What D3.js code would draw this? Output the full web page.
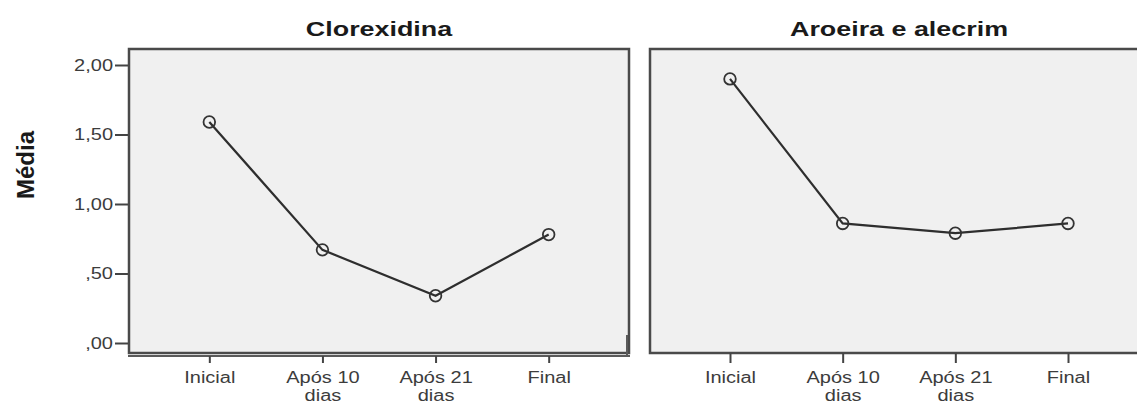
<!DOCTYPE html>
<html>
<head>
<meta charset="utf-8">
<script src="https://cdn.jsdelivr.net/npm/d3@7"></script>
<style>
  html, body { margin: 0; padding: 0; background: #fff; }
  svg { display: block; }
</style>
</head>
<body>
<svg id="chart" width="1137" height="405"></svg>
<script>
// ---- data ----
const categories = ["Inicial", "Após 10 dias", "Após 21 dias", "Final"];
const categoryLines = [["Inicial"], ["Após 10", "dias"], ["Após 21", "dias"], ["Final"]];
const panelTitles = ["Clorexidina", "Aroeira e alecrim"];
const clorexidinaValues = [1.59, 0.67, 0.34, 0.78];
const aroeiraValues = [1.90, 0.86, 0.79, 0.86];
const yTickValues = [0, 0.5, 1.0, 1.5, 2.0];
const yTickLabels = [",00", ",50", "1,00", "1,50", "2,00"];
const yAxisTitle = "Média";

// ---- layout ----
const W = 1137, H = 405;
const plotTop = 49, plotBottom = 353;
const sx = 1.25; // horizontal text stretch of the reference
const svg = d3.select("#chart");
svg.append("rect").attr("width", W).attr("height", H).attr("fill", "#fff");

const y = d3.scaleLinear().domain([0, 2]).range([343, 65]);

const panels = [
  { title: panelTitles[0], values: clorexidinaValues, x0: 129, x1: 629, yAxis: true },
  { title: panelTitles[1], values: aroeiraValues, x0: 650, x1: 1148, yAxis: false }
];

const textColor = "#3c3c3c";
const frameColor = "#4a4a4a";

panels.forEach(p => {
  const x = d3.scalePoint().domain(categories).range([p.x0, p.x1]).padding(0.71);
  const g = svg.append("g");

  // plot background + frame
  g.append("rect")
    .attr("x", p.x0).attr("y", plotTop)
    .attr("width", p.x1 - p.x0).attr("height", plotBottom - plotTop)
    .attr("fill", "#f0f0f0")
    .attr("stroke", frameColor).attr("stroke-width", 2.5);

  if (p.yAxis) {
    // SPSS style double base line
    g.append("line")
      .attr("x1", p.x0 - 1).attr("x2", p.x1 + 1)
      .attr("y1", plotBottom + 3).attr("y2", plotBottom + 3)
      .attr("stroke", "#5a5a5a").attr("stroke-width", 2);
    g.append("line")
      .attr("x1", p.x1 - 2).attr("x2", p.x1 - 2)
      .attr("y1", plotBottom - 18).attr("y2", plotBottom + 4)
      .attr("stroke", "#5a5a5a").attr("stroke-width", 2);
  }

  // title
  g.append("text")
    .attr("transform", `translate(${(p.x0 + p.x1) / 2},36) scale(1.28,1)`)
    .attr("text-anchor", "middle")
    .attr("font-family", "Liberation Sans, Arial, sans-serif")
    .attr("font-weight", "bold")
    .attr("font-size", 21)
    .attr("fill", "#1a1a1a")
    .text(p.title);

  // y axis
  if (p.yAxis) {
    const ya = g.append("g")
      .attr("transform", `translate(${p.x0 - 1},0)`)
      .call(d3.axisLeft(y).tickValues(yTickValues).tickSize(13).tickPadding(2)
        .tickFormat((d, i) => yTickLabels[i]));
    ya.select(".domain").remove();
    ya.selectAll(".tick line").attr("stroke", "#444").attr("stroke-width", 2);
    ya.selectAll(".tick text")
      .attr("x", -12)
      .attr("transform", `scale(${sx},1)`)
      .attr("font-family", "Liberation Sans, Arial, sans-serif")
      .attr("font-size", 16)
      .attr("fill", textColor);
  }

  // x axis
  const xa = g.append("g")
    .attr("transform", `translate(0,${p.yAxis ? plotBottom + 3 : plotBottom})`)
    .call(d3.axisBottom(x).tickSize(p.yAxis ? 7 : 10).tickFormat(() => ""));
  xa.select(".domain").remove();
  xa.selectAll(".tick line").attr("stroke", "#444").attr("stroke-width", 2);
  xa.selectAll(".tick text")
    .attr("y", p.yAxis ? 27 : 30).attr("dy", null)
    .attr("transform", `scale(${sx},1)`)
    .attr("font-family", "Liberation Sans, Arial, sans-serif")
    .attr("font-size", 16)
    .attr("fill", textColor)
    .each(function(d, i) {
      const t = d3.select(this);
      categoryLines[i].forEach((line, j) => {
        t.append("tspan").attr("x", 0).attr("dy", j === 0 ? 0 : 18).text(line);
      });
    });

  // line
  const line = d3.line().x((d, i) => x(categories[i])).y(d => y(d));
  g.append("path")
    .datum(p.values)
    .attr("d", line)
    .attr("fill", "none")
    .attr("stroke", "#2e2e2e")
    .attr("stroke-width", 2.2);

  // markers
  g.selectAll("circle.pt")
    .data(p.values)
    .join("circle")
    .attr("class", "pt")
    .attr("cx", (d, i) => x(categories[i]))
    .attr("cy", d => y(d))
    .attr("r", 5.8)
    .attr("fill", "none")
    .attr("stroke", "#333")
    .attr("stroke-width", 1.8);
});

// y axis title
svg.append("text")
  .attr("transform", "translate(34,165) rotate(-90)")
  .attr("text-anchor", "middle")
  .attr("font-family", "Liberation Sans, Arial, sans-serif")
  .attr("font-weight", "bold")
  .attr("font-size", 24)
  .attr("fill", "#1a1a1a")
  .text(yAxisTitle);
</script>
</body>
</html>
